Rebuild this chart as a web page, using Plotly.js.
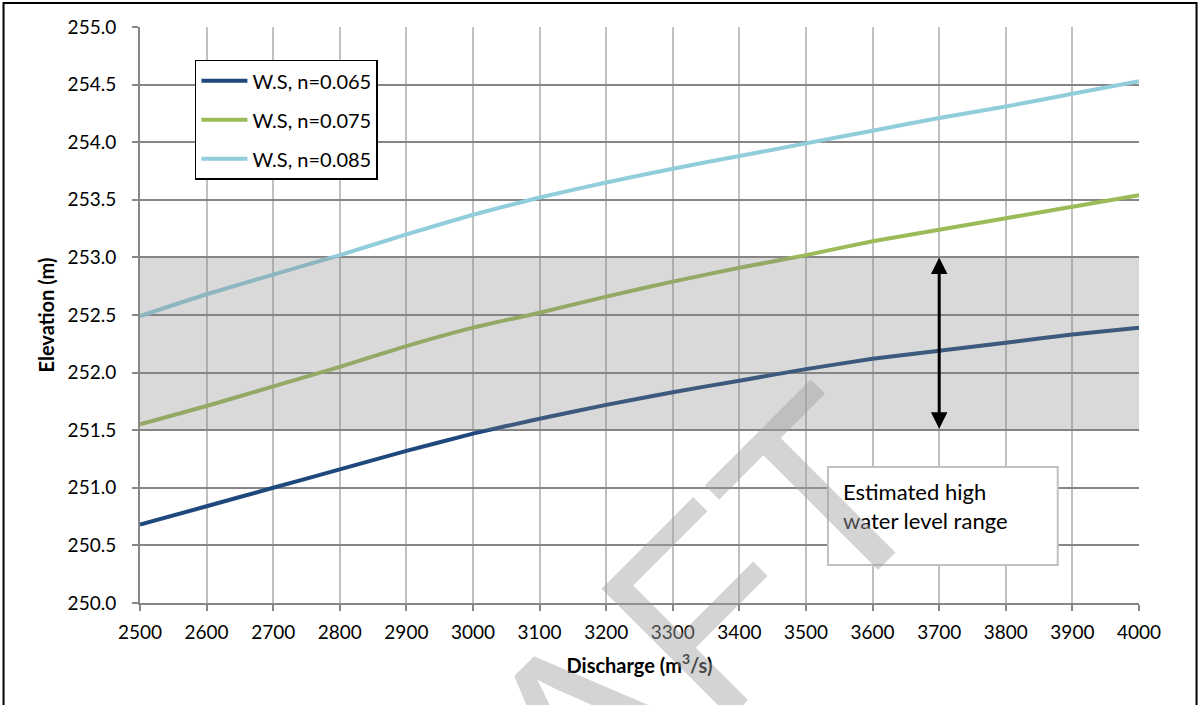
<!DOCTYPE html>
<html>
<head>
<meta charset="utf-8">
<script src="https://cdn.plot.ly/plotly-3.0.1.min.js"></script>
<style>
  html, body { margin: 0; padding: 0; background: #ffffff; }
  #chart { width: 1199px; height: 705px; }
</style>
</head>
<body>
<div id="chart"></div>
<script>
// Discharge (m3/s) on the x axis
const discharge = [2500, 2600, 2700, 2800, 2900, 3000, 3100, 3200, 3300, 3400, 3500, 3600, 3700, 3800, 3900, 4000];

// Water surface elevation (m) for three Manning's n values
const wsN065 = [250.68, 250.84, 251.00, 251.16, 251.32, 251.47, 251.60, 251.72, 251.83, 251.93, 252.03, 252.12, 252.19, 252.26, 252.33, 252.39];
const wsN075 = [251.55, 251.71, 251.88, 252.05, 252.23, 252.39, 252.52, 252.66, 252.79, 252.91, 253.02, 253.14, 253.24, 253.34, 253.44, 253.54];
const wsN085 = [252.49, 252.68, 252.85, 253.02, 253.20, 253.37, 253.52, 253.65, 253.77, 253.88, 253.99, 254.10, 254.21, 254.31, 254.42, 254.53];

const seriesNames = ['W.S, n=0.065', 'W.S, n=0.075', 'W.S, n=0.085'];
const seriesValues = [wsN065, wsN075, wsN085];
const seriesColors = ['#1f497d', '#9bbb59', '#92cddc'];

// Estimated high water level range (m) and the discharge where its arrow sits
const highWaterRange = [251.5, 253.0];
const arrowDischarge = 3700;

const xTickValues = [2500, 2600, 2700, 2800, 2900, 3000, 3100, 3200, 3300, 3400, 3500, 3600, 3700, 3800, 3900, 4000];
const yTickValues = [250.0, 250.5, 251.0, 251.5, 252.0, 252.5, 253.0, 253.5, 254.0, 254.5, 255.0];

const FONT = 'Lato, "Open Sans", sans-serif';

const traces = seriesNames.map((name, i) => ({
  type: 'scatter',
  mode: 'lines',
  name: name,
  x: discharge,
  y: seriesValues[i],
  line: { color: seriesColors[i], width: 4, shape: 'spline', smoothing: 0.5 },
  legendgroup: 'g' + i,
  hoverinfo: 'skip'
}));

const layout = {
  width: 1199,
  height: 705,
  margin: { l: 140, r: 60, t: 27, b: 102 },
  paper_bgcolor: '#ffffff',
  plot_bgcolor: '#ffffff',
  font: { family: FONT, color: '#000000' },
  showlegend: true,
  legend: {
    x: 0.055, xanchor: 'left',
    y: 0.943, yanchor: 'top',
    bgcolor: '#ffffff',
    bordercolor: '#000000',
    borderwidth: 1.5,
    font: { family: FONT, size: 20, color: '#000000' },
    traceorder: 'grouped',
    tracegroupgap: 10,
    itemwidth: 46
  },
  xaxis: {
    range: [2500, 4000],
    tickvals: xTickValues,
    ticktext: xTickValues.map(String),
    showgrid: true, gridcolor: '#c0c0c0', gridwidth: 2,
    zeroline: false,
    showline: true, linecolor: '#868686', linewidth: 2,
    ticks: 'outside', ticklen: 6, tickcolor: '#868686', tickwidth: 2,
    ticklabelstandoff: 5,
    tickfont: { family: FONT, size: 19, color: '#000000' },
    title: { text: 'Discharge (m<sup>3</sup>/s)', font: { family: FONT, size: 20, weight: 'bold', color: '#000000' }, standoff: 17 },
    fixedrange: true
  },
  yaxis: {
    range: [250, 255],
    tickvals: yTickValues,
    ticktext: yTickValues.map(v => v.toFixed(1)),
    showgrid: true, gridcolor: '#868686', gridwidth: 2,
    zeroline: false,
    showline: true, linecolor: '#868686', linewidth: 2,
    ticks: 'outside', ticklen: 6, tickcolor: '#868686', tickwidth: 2,
    ticklabelstandoff: 12,
    tickfont: { family: FONT, size: 19, color: '#000000' },
    title: { text: 'Elevation (m)', font: { family: FONT, size: 20, weight: 'bold', color: '#000000' }, standoff: 8 },
    fixedrange: true
  },
  shapes: [
    // translucent band for the estimated high water level range
    {
      type: 'rect', layer: 'above',
      xref: 'paper', yref: 'y',
      x0: 0, x1: 1, y0: highWaterRange[0], y1: highWaterRange[1],
      fillcolor: 'rgba(130,130,130,0.3)', line: { width: 0 }
    },
    // label box
    {
      type: 'rect', layer: 'above',
      xref: 'x', yref: 'y',
      x0: 3533, x1: 3878, y0: 250.33, y1: 251.18,
      fillcolor: '#ffffff', line: { color: '#c0c0c0', width: 2 }
    },
    // outer frame
    {
      type: 'rect', layer: 'above',
      xref: 'paper', yref: 'paper',
      x0: -0.1366, x1: 1.0576, y0: -0.2, y1: 1.0417,
      fillcolor: 'rgba(0,0,0,0)', line: { color: '#000000', width: 2 }
    }
  ],
  annotations: [
    // double-headed arrow spanning the range
    {
      x: arrowDischarge, y: highWaterRange[1], xref: 'x', yref: 'y',
      ax: arrowDischarge, ay: highWaterRange[0], axref: 'x', ayref: 'y',
      text: '', showarrow: true,
      arrowhead: 2, startarrowhead: 2, arrowside: 'end+start',
      arrowsize: 1.1, startarrowsize: 1.1,
      arrowwidth: 3, arrowcolor: '#000000',
      standoff: 0, startstandoff: 0
    },
    {
      x: 3553, y: 250.84, xref: 'x', yref: 'y',
      xanchor: 'left', yanchor: 'middle', align: 'left',
      text: 'Estimated high<br>water level range',
      showarrow: false,
      font: { family: FONT, size: 22, color: '#000000' }
    },
    // watermark
    {
      x: 0.4274, y: -0.257, xref: 'paper', yref: 'paper',
      xanchor: 'center', yanchor: 'middle',
      text: 'DRAFT', textangle: -45,
      showarrow: false,
      font: { family: '"Liberation Sans", Arial, sans-serif', size: 265, color: 'rgba(160,160,160,0.45)' }
    }
  ]
};

Plotly.newPlot('chart', traces, layout, { displayModeBar: false, staticPlot: true });
</script>
</body>
</html>
